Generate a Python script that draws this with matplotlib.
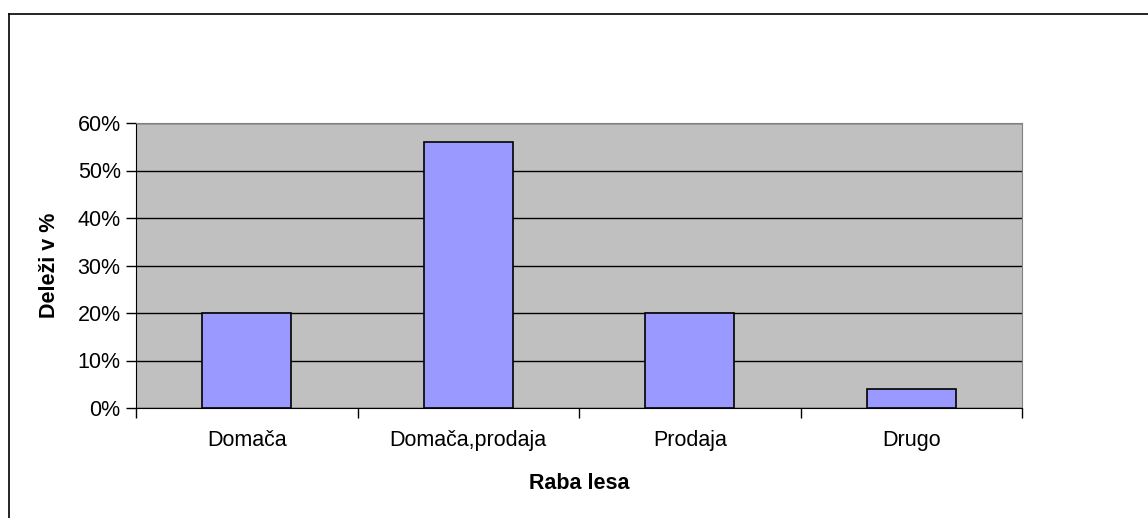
import matplotlib
matplotlib.use("Agg")
import matplotlib.pyplot as plt
from matplotlib.lines import Line2D
from matplotlib.ticker import FuncFormatter, FixedLocator, NullFormatter

plt.rcParams['font.family'] = ['Liberation Sans', 'DejaVu Sans']

# data
categories = ['Domača', 'Domača,prodaja', 'Prodaja', 'Drugo']
shares = [20, 56, 20, 4]

W, H = 1148, 518
fig = plt.figure(figsize=(W / 100, H / 100), dpi=100)

# outer chart frame (only left and top edges visible)
fx, fy = 8.5 / W, 1 - 13.5 / H
fig.lines.append(Line2D([fx, fx], [0, fy], transform=fig.transFigure, color='black', linewidth=1.2))
fig.lines.append(Line2D([fx, 1], [fy, fy], transform=fig.transFigure, color='black', linewidth=1.2))

ax = fig.add_axes([136 / W, 1 - 408 / H, (1022 - 136) / W, (408 - 123) / H])
ax.set_facecolor('#C0C0C0')

x = range(len(categories))
ax.bar(x, shares, width=0.4, color='#9999FF', edgecolor='black', linewidth=1.2, zorder=3)

ax.set_xlim(-0.5, len(categories) - 0.5)
ax.set_ylim(0, 60)
ax.set_yticks(range(0, 61, 10))
ax.yaxis.set_major_formatter(FuncFormatter(lambda v, p: f'{int(v)}%'))
ax.yaxis.grid(True, color='black', linewidth=1, zorder=1)
ax.set_axisbelow(True)

ax.set_xticks(list(x))
ax.set_xticklabels(categories)
ax.xaxis.set_minor_locator(FixedLocator([i - 0.5 for i in range(len(categories) + 1)]))
ax.xaxis.set_minor_formatter(NullFormatter())
ax.tick_params(axis='x', which='major', length=0, pad=16, labelsize=15.5)
ax.tick_params(axis='x', which='minor', length=7, width=1, direction='out')
ax.tick_params(axis='y', length=7, width=1, direction='out', labelsize=15.5, pad=4)

ax.spines['top'].set_color('#808080')
ax.spines['right'].set_color('#808080')
ax.spines['left'].set_color('black')
ax.spines['bottom'].set_color('black')

ax.set_xlabel('Raba lesa', fontsize=15.5, fontweight='bold', labelpad=16)
ax.set_ylabel('Deleži v %', fontsize=15.5, fontweight='bold', labelpad=13)

fig.savefig('out.png', dpi=100)
